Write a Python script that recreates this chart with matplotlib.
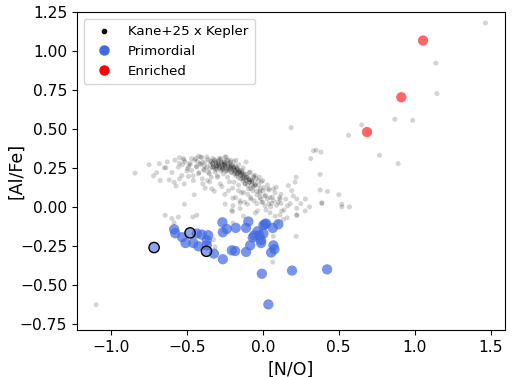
import matplotlib
matplotlib.use("Agg")
import matplotlib.pyplot as plt
from matplotlib.lines import Line2D

# Kane+25 x Kepler sample (gray)
gray_x = [-0.842,-0.721,-0.682,-0.677,-0.630,-0.639,-0.618,-0.585,-0.572,-0.557,-0.550,-0.524,-0.534,-0.518,
          -0.512,-0.497,-0.491,-0.480,-0.469,-0.458,-0.453,-0.442,-0.436,-0.425,-0.425,-0.403,-0.414,-0.396,
          -0.387,-0.381,-0.370,-0.365,-0.352,-0.348,-0.337,-0.330,-0.326,-0.321,-0.315,-0.308,-0.299,-0.304,
          -0.293,-0.286,-0.282,-0.278,-0.271,-0.264,-0.260,-0.256,-0.249,-0.242,-0.238,-0.233,-0.227,-0.220,
          -0.216,-0.212,-0.205,-0.205,-0.198,-0.194,-0.190,-0.183,-0.177,-0.172,-0.168,-0.161,-0.155,-0.150,
          -0.146,-0.139,-0.133,-0.128,-0.124,-0.117,-0.111,-0.106,-0.102,-0.095,-0.089,-0.084,-0.080,-0.073,
          -0.067,-0.062,-0.058,-0.051,-0.045,-0.040,-0.036,-0.029,-0.023,-0.018,-0.014,-0.007,-0.001,0.003,
          0.014,0.036,0.047,0.058,0.069,0.087,0.113,0.118,0.124,0.113,0.162,0.168,0.190,0.212,0.219,0.223,
          0.223,0.223,0.278,0.307,0.315,0.333,0.351,0.382,0.377,0.377,0.388,0.425,0.500,0.520,0.520,0.570,
          0.186,0.564,0.651,0.768,0.891,1.466,1.139,1.146,0.869,0.987,-1.099,
          -0.644,-0.600,-0.557,-0.585,-0.462,-0.436,-0.517,-0.249,-0.198,-0.150,-0.128,-0.326,-0.315,-0.198,
          0.047,0.069,0.065,0.219,0.223,0.135,0.388,
          -0.400,-0.385,-0.362,-0.352,-0.338,-0.331,-0.318,-0.309,-0.304,-0.296,-0.288,-0.281,-0.276,-0.268,
          -0.262,-0.255,-0.249,-0.243,-0.238,-0.229,-0.221,-0.214,-0.209,-0.202,-0.196,-0.188,-0.181,-0.177,
          -0.168,-0.161,-0.153,-0.148,-0.139,-0.132,-0.124,-0.118,-0.109,-0.101,-0.093,-0.082,-0.074,-0.063,
          -0.052,-0.041,-0.028,-0.019,0.004,0.018,0.041,0.062,
          -0.60,-0.55,-0.50,-0.48,-0.46,-0.44,-0.42,-0.40,-0.38,-0.35,-0.32,-0.30,-0.27,-0.25,-0.22,-0.20,
          -0.18,-0.16,-0.14,-0.12,-0.10,-0.08,-0.06,-0.04,-0.02,0.00,0.03,0.05,0.08,0.10,0.12,0.15,0.18,
          0.20,0.25,0.28,-0.65,-0.70,-0.75,-0.58,-0.53,-0.47,-0.43,-0.41,-0.37,-0.33,-0.29,-0.25,-0.23,
          -0.19,-0.16,-0.13,-0.09,-0.05,-0.01,0.03,
          -0.15,-0.05,0.02,0.08,0.10,0.16,-0.20,
          -0.347,-0.333,-0.327,-0.311,-0.306,-0.291,-0.283,-0.273,-0.266,-0.252,-0.247,-0.232,-0.226,-0.211,
          -0.207,-0.193,-0.186,-0.172,-0.166,-0.158,-0.142,-0.137,-0.128,-0.112,-0.106,-0.097,-0.086,-0.071,
          -0.316,-0.293,-0.268,-0.254,-0.233,-0.213,-0.188,-0.172,-0.152,-0.128,-0.112,-0.088,-0.072,-0.052,
          -0.55,-0.52,-0.49,-0.45,-0.41,-0.39,-0.36,-0.34,-0.02,0.01,0.04,0.07,0.09,0.11,0.14]
gray_y = [0.216,0.199,0.277,0.169,0.288,0.251,0.173,0.158,0.134,0.255,0.316,0.310,0.201,0.147,
          0.288,0.245,0.195,0.271,0.234,0.169,0.078,0.310,0.255,0.212,0.325,0.316,0.277,0.147,
          0.234,0.288,0.255,0.169,0.212,0.294,0.115,0.277,0.255,0.303,0.223,0.281,0.190,0.266,
          0.294,0.255,0.147,0.310,0.277,0.245,0.212,0.288,0.266,0.320,0.238,0.190,0.104,0.277,
          0.255,0.299,0.223,-0.022,0.056,0.255,0.158,0.234,0.299,0.212,0.245,0.104,0.223,0.039,
          0.201,0.234,0.180,0.093,0.212,0.147,0.288,0.190,0.017,0.115,0.158,0.223,0.060,0.169,
          0.104,0.201,0.039,0.136,0.180,0.078,-0.026,0.169,0.190,0.115,0.050,0.028,0.169,0.104,
          0.006,0.115,0.060,0.022,0.115,0.125,0.050,0.022,-0.026,-0.052,0.006,0.136,0.104,0.158,0.190,0.050,
          -0.009,-0.052,-0.026,0.000,0.310,0.359,0.364,0.351,0.208,0.108,0.022,0.099,0.078,0.017,0.000,0.000,
          0.508,0.459,0.526,0.331,0.277,1.179,0.922,0.727,0.562,0.555,-0.628,
          -0.054,-0.075,-0.065,-0.103,-0.065,-0.054,0.017,0.017,0.008,0.025,-0.060,-0.210,-0.257,-0.103,
          -0.039,-0.189,-0.354,-0.189,-0.054,-0.081,0.026,
          0.285,0.262,0.305,0.243,0.288,0.252,0.296,0.262,0.238,0.281,0.249,0.302,0.232,0.271,
          0.243,0.289,0.255,0.228,0.296,0.262,0.241,0.286,0.219,0.268,0.236,0.212,0.259,0.199,
          0.238,0.188,0.226,0.181,0.214,0.166,0.203,0.149,0.188,0.139,0.176,0.118,0.161,0.128,
          0.149,0.101,0.138,0.086,0.124,0.072,0.108,0.061,
          0.22,0.18,0.23,0.28,0.20,0.26,0.22,0.18,0.12,0.16,0.10,0.20,0.13,0.08,0.16,0.12,
          0.06,0.14,0.09,0.03,0.08,0.05,0.19,0.02,0.06,0.03,0.05,0.00,0.09,0.03,0.08,0.05,0.02,
          0.07,0.02,0.05,0.25,0.22,0.27,0.30,0.27,0.31,0.29,0.32,0.32,0.31,0.31,0.32,0.30,
          0.29,0.27,0.25,0.22,0.20,0.16,0.14,
          -0.01,-0.04,-0.02,-0.06,-0.10,-0.07,-0.03,
          0.271,0.279,0.259,0.287,0.252,0.276,0.261,0.284,0.255,0.276,0.262,0.275,0.246,0.268,
          0.251,0.255,0.228,0.249,0.222,0.236,0.205,0.224,0.192,0.209,0.172,0.191,0.158,0.172,
          0.244,0.265,0.238,0.272,0.231,0.248,0.241,0.211,0.216,0.183,0.168,0.171,0.138,0.142,
          0.28,0.30,0.26,0.30,0.27,0.24,0.22,0.19,0.10,0.07,0.02,0.04,0.01,0.06,-0.02]

# Primordial (blue)
prim_x = [-0.585,-0.578,-0.532,-0.510,-0.458,-0.425,-0.436,-0.403,-0.361,-0.370,-0.370,-0.323,-0.267,
          -0.264,-0.238,-0.264,-0.205,-0.183,-0.179,-0.111,-0.111,-0.096,-0.084,-0.067,-0.058,-0.036,
          -0.023,-0.012,-0.012,0.003,0.003,0.021,0.065,0.102,0.069,0.076,0.054,-0.007,0.192,0.423,0.036,0.014]
prim_y = [-0.144,-0.169,-0.195,-0.232,-0.232,-0.253,-0.171,-0.178,-0.182,-0.214,-0.247,-0.300,-0.099,
          -0.163,-0.142,-0.336,-0.279,-0.283,-0.135,-0.289,-0.135,-0.094,-0.247,-0.197,-0.184,-0.157,
          -0.182,-0.214,-0.232,-0.171,-0.118,-0.107,-0.135,-0.111,-0.247,-0.272,-0.293,-0.429,-0.409,-0.401,-0.626,-0.111]

# Highlighted primordial (black edge)
hl_x = [-0.717,-0.480,-0.372]
hl_y = [-0.261,-0.167,-0.285]

# Enriched (red)
enr_x = [1.055,0.912,0.686]
enr_y = [1.067,0.703,0.480]

fig = plt.figure(figsize=(5.12, 3.77), dpi=100)
ax = fig.add_axes([77/512, 1-330/377, (505-77)/512, (330-12)/377])

ax.scatter(gray_x, gray_y, s=13, color='black', alpha=0.17, edgecolors='none', zorder=1)
ax.scatter(prim_x, prim_y, s=55, color='royalblue', alpha=0.7, edgecolors='none', zorder=2)
ax.scatter(hl_x, hl_y, s=55, color='royalblue', alpha=0.6, edgecolors='none', zorder=3)
ax.scatter(hl_x, hl_y, s=55, facecolors='none', edgecolors='black', linewidths=1.0, zorder=4)
ax.scatter(enr_x, enr_y, s=55, color='red', alpha=0.6, edgecolors='none', zorder=2)

ax.set_xlim(-1.225, 1.595)
ax.set_ylim(-0.79, 1.25)
ax.set_xticks([-1.0, -0.5, 0.0, 0.5, 1.0, 1.5])
ax.set_yticks([-0.75, -0.50, -0.25, 0.00, 0.25, 0.50, 0.75, 1.00, 1.25])
ax.tick_params(labelsize=11.2)
ax.set_xlabel('[N/O]', fontsize=12.5)
ax.set_ylabel('[Al/Fe]', fontsize=12.5)
ax.yaxis.set_label_coords(-0.12, 0.5)

handles = [
    Line2D([], [], linestyle='none', marker='o', markersize=3, color='black', label='Kane+25 x Kepler'),
    Line2D([], [], linestyle='none', marker='o', markersize=6.5, color='royalblue', label='Primordial'),
    Line2D([], [], linestyle='none', marker='o', markersize=6.5, color='red', label='Enriched'),
]
ax.legend(handles=handles, loc='upper left', fontsize=9.6, handletextpad=0.8, borderpad=0.5,
          labelspacing=0.5)

fig.savefig('out.png', dpi=100)
